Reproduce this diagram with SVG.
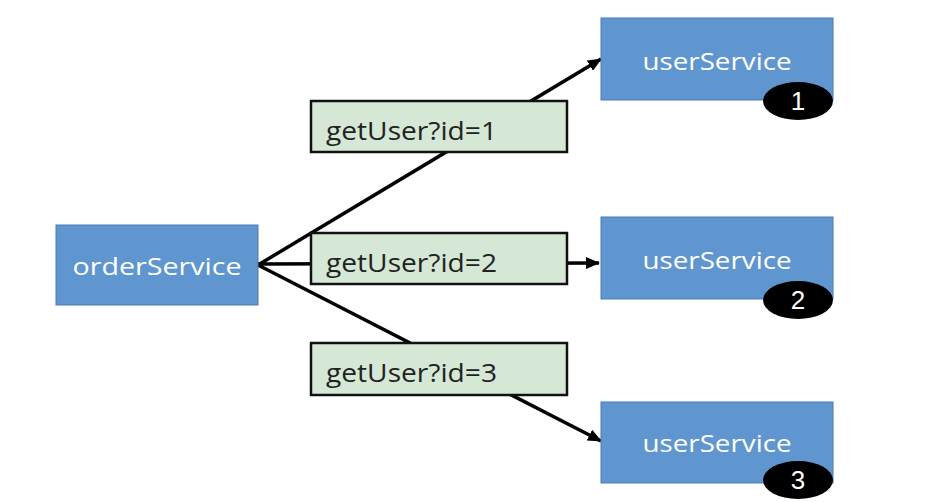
<svg xmlns="http://www.w3.org/2000/svg" width="926" height="502" viewBox="0 0 926 502">
<defs>
<marker id="arr" markerWidth="14" markerHeight="12" refX="13" refY="6" orient="auto" markerUnits="userSpaceOnUse" viewBox="0 0 14 12">
<path d="M0,0 L14,6 L0,12 z" fill="#000"/>
</marker>
<style>
.svc{fill:#6096cf;stroke:#4a7bb5;stroke-width:1}
.svct{fill:#fff;font-family:"Open Sans","Liberation Sans",sans-serif;font-size:24px;text-anchor:middle}
.lbl{fill:#d5e8d6;stroke:#111;stroke-width:2.5}
.lblt{fill:#222;font-family:"Open Sans","Liberation Sans",sans-serif;font-size:26px}
.badge{fill:#000}
.badget{fill:#fff;font-family:"Liberation Sans",sans-serif;font-size:26px;text-anchor:middle}
.conn{stroke:#000;stroke-width:3.5;fill:none}
</style>
</defs>
<rect width="926" height="502" fill="#fff"/>
<g id="connectors">
<line class="conn" x1="258" y1="265" x2="601" y2="59" marker-end="url(#arr)"/>
<line class="conn" x1="258" y1="264" x2="599" y2="263" marker-end="url(#arr)"/>
<line class="conn" x1="258" y1="265" x2="601" y2="441" marker-end="url(#arr)"/>
</g>
<g id="orderService">
<rect class="svc" x="56" y="225" width="202" height="80"/>
<text class="svct" x="157" y="275" textLength="169" lengthAdjust="spacingAndGlyphs">orderService</text>
</g>
<g id="label1">
<rect class="lbl" x="311" y="101" width="256" height="51"/>
<text class="lblt" x="326" y="140" textLength="171" lengthAdjust="spacingAndGlyphs">getUser?id=1</text>
</g>
<g id="label2">
<rect class="lbl" x="311" y="233" width="256" height="51"/>
<text class="lblt" x="326" y="272" textLength="171" lengthAdjust="spacingAndGlyphs">getUser?id=2</text>
</g>
<g id="label3">
<rect class="lbl" x="311" y="343" width="256" height="52"/>
<text class="lblt" x="326" y="382" textLength="171" lengthAdjust="spacingAndGlyphs">getUser?id=3</text>
</g>
<g id="userService1">
<rect class="svc" x="601" y="18" width="232" height="82"/>
<text class="svct" x="717" y="70" textLength="149" lengthAdjust="spacingAndGlyphs">userService</text>
<ellipse class="badge" cx="798" cy="101" rx="35" ry="19"/>
<text class="badget" x="798" y="110">1</text>
</g>
<g id="userService2">
<rect class="svc" x="601" y="217" width="232" height="82"/>
<text class="svct" x="717" y="269" textLength="149" lengthAdjust="spacingAndGlyphs">userService</text>
<ellipse class="badge" cx="798" cy="300" rx="35" ry="19"/>
<text class="badget" x="798" y="309">2</text>
</g>
<g id="userService3">
<rect class="svc" x="601" y="402" width="232" height="81"/>
<text class="svct" x="717" y="452" textLength="149" lengthAdjust="spacingAndGlyphs">userService</text>
<ellipse class="badge" cx="798" cy="480" rx="35" ry="19"/>
<text class="badget" x="798" y="489">3</text>
</g>
</svg>
